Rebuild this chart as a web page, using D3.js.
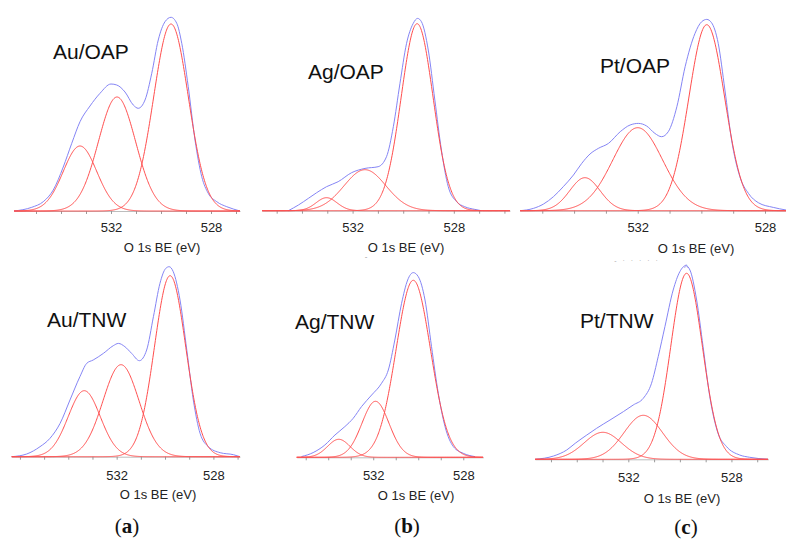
<!DOCTYPE html>
<html>
<head>
<meta charset="utf-8">
<script src="https://cdn.jsdelivr.net/npm/d3@7"></script>
<style>
  body { margin: 0; background: #fff; }
  svg { display: block; font-family: "Liberation Sans", Arial, sans-serif; }
  .axis path { stroke: #bdbdbd; }
  .axis line { stroke: #9a9a9a; }
  .axis text { font-size: 13px; fill: #222; font-family: "Liberation Sans", Arial, sans-serif; }
</style>
</head>
<body>
<div id="chart"></div>
<script>
// sample names, in panel order (top row OAP, bottom row TNW)
const sampleNames = ["Au/OAP", "Ag/OAP", "Pt/OAP", "Au/TNW", "Ag/TNW", "Pt/TNW"];
const columnLetters = ["a", "b", "c"];
const labeledTicks = [532, 528];
const axisTitle = "O 1s BE (eV)";

// binding-energy span shown on each axis (eV, high -> low)
const energyRanges = [
  [535.88, 526.84], [535.58, 525.78], [535.70, 527.34],
  [536.34, 526.90], [535.40, 527.11], [535.62, 526.57]
];

// fitted components: [centre eV, height a.u., FWHM eV]
const auOapPeaks = [[529.60, 187, 1.68], [531.76, 114, 1.80], [533.24, 65, 1.62]];
const agOapPeaks = [[529.45, 187, 1.52], [531.51, 41, 2.00], [533.03, 13, 1.00]];
const ptOapPeaks = [[529.83, 186, 1.36], [532.00, 83, 1.90], [533.66, 33, 1.15]];
const auTnwPeaks = [[529.79, 181, 1.56], [531.82, 92, 1.80], [533.34, 66, 1.60]];
const agTnwPeaks = [[530.22, 177, 1.85], [531.90, 56, 1.45], [533.53, 18, 1.20]];
const ptTnwPeaks = [[529.74, 186, 1.48], [531.42, 44, 1.80], [532.99, 27, 1.75]];

// measured envelope: [eV, intensity a.u.]
const auOapEnvelope = [
  [535.88, 0], [535.17, 3.7], [534.71, 9.3], [534.31, 21], [533.91, 44], [533.57, 67.7],
  [533.24, 89.3], [532.84, 105], [532.44, 117.7], [532.0, 127], [531.77, 126], [531.44, 119],
  [531.11, 106], [530.91, 102.7], [530.64, 111], [530.37, 137.7], [530.11, 171], [529.84, 189.3],
  [529.6, 193.7], [529.37, 187.7], [529.17, 167.7], [528.91, 124.3], [528.64, 71], [528.37, 34.3],
  [528.11, 17.7], [527.77, 9.3], [527.37, 4.3], [527.11, 2], [526.84, 0]
];
const agOapEnvelope = [
  [534.54, 0], [534.14, 5.7], [533.75, 12.3], [533.42, 18], [533.03, 24], [532.57, 29],
  [532.04, 38], [531.51, 42.3], [530.99, 44], [530.66, 54], [530.39, 84], [530.13, 127],
  [529.87, 167], [529.61, 187], [529.43, 192.3], [529.28, 189], [529.01, 160.7], [528.75, 110.7],
  [528.49, 60.7], [528.22, 24], [527.89, 9], [527.57, 4], [527.17, 1.3], [526.91, 0]
];
const ptOapEnvelope = [
  [535.70, 0], [535.28, 2.3], [534.96, 6.7], [534.65, 14], [534.34, 24], [534.02, 35.7],
  [533.76, 47.3], [533.50, 56.7], [533.24, 62.3], [532.92, 67.3], [532.55, 79], [532.24, 85.7],
  [531.98, 87.3], [531.72, 84.7], [531.46, 77.3], [531.25, 74], [531.04, 79], [530.77, 104],
  [530.51, 144], [530.20, 177.3], [529.99, 189], [529.83, 191.3], [529.68, 188], [529.47, 167.3],
  [529.26, 120.7], [529.05, 70.7], [528.79, 34], [528.52, 17.3], [528.21, 8], [527.74, 3.3],
  [527.34, 0.7]
];
const auTnwEnvelope = [
  [536.34, 0], [535.72, 2.7], [535.17, 10], [534.76, 18.3], [534.34, 33.3], [533.93, 56.7],
  [533.52, 80], [533.24, 93.3], [532.97, 96.7], [532.55, 103.3], [532.14, 111], [531.93, 113.3],
  [531.66, 110], [531.38, 103.3], [531.06, 96], [530.76, 106.7], [530.48, 140], [530.21, 173.3],
  [529.97, 188.3], [529.83, 190], [529.66, 185], [529.38, 156.7], [529.10, 106.7], [528.83, 56.7],
  [528.55, 23.3], [528.21, 10], [527.72, 4], [527.17, 2], [526.90, 0]
];
const agTnwEnvelope = [
  [535.19, 0.7], [534.67, 4.7], [534.15, 12.3], [533.70, 22.3], [533.26, 30.7], [532.89, 39],
  [532.52, 50.7], [532.07, 62.3], [531.63, 74], [531.33, 87.3], [531.04, 117.3], [530.74, 154],
  [530.47, 177.3], [530.22, 184.7], [530.0, 180.7], [529.70, 157.3], [529.41, 110.7], [529.11, 64],
  [528.81, 30.7], [528.44, 10.7], [528.0, 4], [527.48, 0.7]
];
const ptTnwEnvelope = [
  [535.61, 0], [534.90, 3.3], [534.39, 9.3], [534.06, 16], [533.61, 24.3], [533.23, 31],
  [532.71, 39.3], [532.19, 47.7], [531.81, 54.3], [531.42, 61], [531.10, 76], [530.84, 102.7],
  [530.58, 132.7], [530.26, 169.3], [530.0, 187.7], [529.77, 193.7], [529.61, 189.3], [529.35, 159.3],
  [529.10, 112.7], [528.84, 62.7], [528.52, 26], [528.19, 12.7], [527.68, 4.3], [527.29, 2],
  [526.58, 0]
];

const peakSets = [auOapPeaks, agOapPeaks, ptOapPeaks, auTnwPeaks, agTnwPeaks, ptTnwPeaks];
const envelopes = [auOapEnvelope, agOapEnvelope, ptOapEnvelope, auTnwEnvelope, agTnwEnvelope, ptTnwEnvelope];

// where each panel sits on the page
const layout = [
  { x0: 14,    x1: 240,   base: 211,   tx: 53,  ty: 59,    lx: 162, ly: 252,   pad: 9 },
  { x0: 262,   x1: 510,   base: 210.7, tx: 308, ty: 79,    lx: 406, ly: 252.3, pad: 9 },
  { x0: 520,   x1: 786,   base: 210.7, tx: 600, ty: 72.5,  lx: 696, ly: 253,   pad: 9.5 },
  { x0: 11.7,  x1: 240,   base: 456.7, tx: 47,  ty: 327.3, lx: 158, ly: 499.3, pad: 11 },
  { x0: 296.7, x1: 483.3, base: 457.3, tx: 295, ty: 329,   lx: 416, ly: 500,   pad: 10.5 },
  { x0: 535,   x1: 768.3, base: 459.3, tx: 580, ty: 328.3, lx: 682, ly: 503.3, pad: 10.5 }
];
const letterPos = [[127, 533], [407, 533], [686, 534]];

const W = 786, H = 541;
const svg = d3.select("#chart").append("svg")
  .attr("width", W)
  .attr("height", H);

// Gaussian-Lorentzian product line shape (mostly Gaussian)
function glShape(e, p) {
  const d = (e - p[0]) / p[2];
  const m = 0.12;
  return p[1] * Math.exp(-4 * Math.LN2 * (1 - m) * d * d) / (1 + 4 * m * d * d);
}

sampleNames.forEach((name, i) => {
  const L = layout[i];
  const [eHi, eLo] = energyRanges[i];

  const x = d3.scaleLinear().domain([eHi, eLo]).range([L.x0, L.x1]);
  const y = d3.scaleLinear().domain([0, 200]).range([L.base, L.base - 200]);

  const g = svg.append("g");

  g.append("g")
    .attr("class", "axis")
    .attr("transform", `translate(0,${L.base})`)
    .call(d3.axisBottom(x)
      .tickValues(d3.range(Math.ceil(eLo), Math.floor(eHi) + 1))
      .tickSize(3)
      .tickSizeOuter(0)
      .tickPadding(L.pad)
      .tickFormat(d => labeledTicks.includes(d) ? d : ""));

  // envelope
  const envLine = d3.line()
    .x(d => x(d[0]))
    .y(d => y(d[1]))
    .curve(d3.curveMonotoneX);

  g.append("path")
    .datum(envelopes[i])
    .attr("fill", "none")
    .attr("stroke", "#8585f5")
    .attr("stroke-width", 1)
    .attr("d", envLine);

  // components
  const grid = d3.range(eHi, eLo - 0.001, -0.02);
  peakSets[i].forEach(p => {
    g.append("path")
      .datum(grid)
      .attr("fill", "none")
      .attr("stroke", "#ff4d4d")
      .attr("stroke-width", 1)
      .attr("d", d3.line().x(e => x(e)).y(e => y(glShape(e, p))));
  });

  g.append("text")
    .attr("x", L.tx)
    .attr("y", L.ty)
    .style("font-size", "21px")
    .style("fill", "#111")
    .text(name);

  g.append("text")
    .attr("x", L.lx)
    .attr("y", L.ly)
    .attr("text-anchor", "middle")
    .style("font-size", "13px")
    .style("fill", "#222")
    .text(axisTitle);
});

columnLetters.forEach((c, i) => {
  const t = svg.append("text")
    .attr("x", letterPos[i][0])
    .attr("y", letterPos[i][1])
    .attr("text-anchor", "middle")
    .style("font-family", "'Liberation Serif', 'DejaVu Serif', serif")
    .style("font-size", "21px")
    .style("fill", "#111");
  t.append("tspan").text("(");
  t.append("tspan").style("font-weight", "bold").text(c);
  t.append("tspan").text(")");
});

// scraps of cropped text left over from the source figure
svg.append("text").attr("x", 366).attr("y", 259).attr("text-anchor", "middle")
  .style("font-size", "8px").style("fill", "#999").text("-");
svg.append("text").attr("x", 637).attr("y", 263).attr("text-anchor", "middle")
  .style("font-size", "7px").style("fill", "#aaa").style("letter-spacing", "2px").text("- · · · · ·");
svg.append("text").attr("x", 686).attr("y", 271).attr("text-anchor", "middle")
  .style("font-size", "9px").style("fill", "#9a9aee").text("^");
</script>
</body>
</html>
